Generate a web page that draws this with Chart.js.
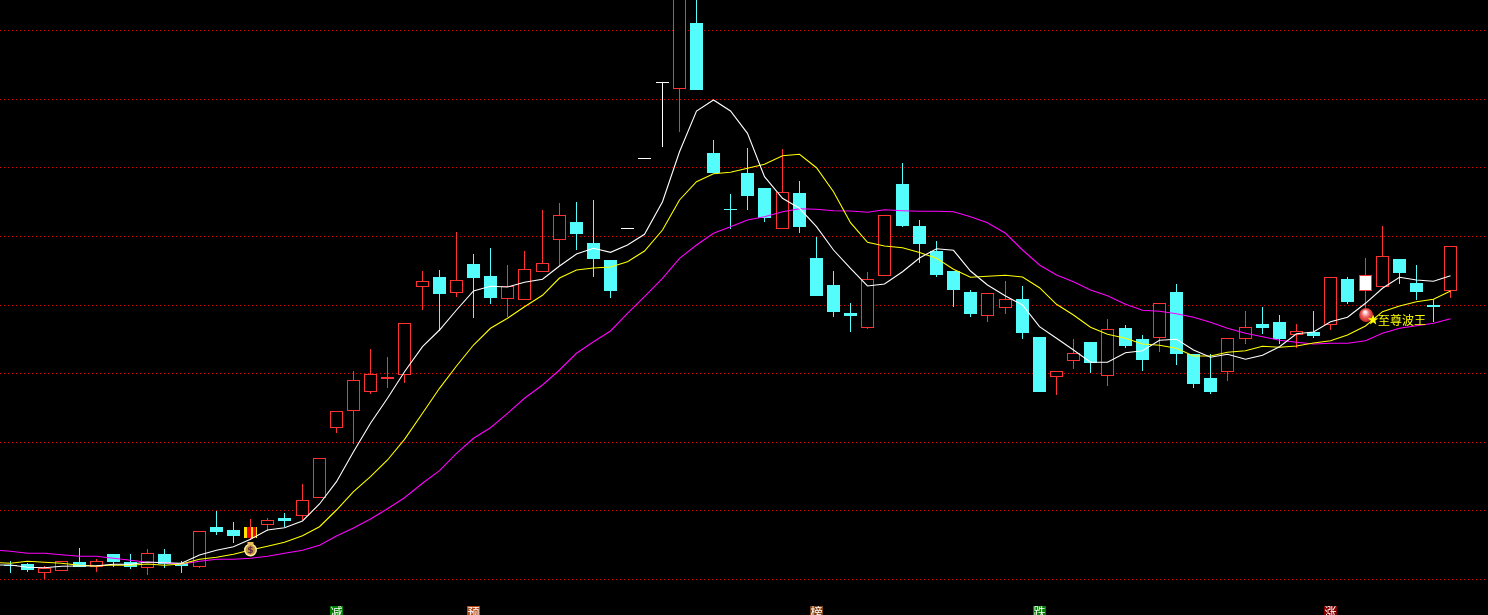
<!DOCTYPE html>
<html>
<head>
<meta charset="utf-8">
<title>K-line</title>
<script src="https://cdn.jsdelivr.net/npm/chart.js@4/dist/chart.umd.min.js"></script>
<style>
  html, body { margin: 0; padding: 0; background: #000; overflow: hidden; }
  canvas { display: block; }
</style>
</head>
<body>
<canvas id="kline" width="1488" height="615"></canvas>
<script>
// --- Data ---
const opens = [50,51,42.3,44.3,53,48,61,53,47.3,61,52,48.3,88,85,77,90.3,97,98.7,116.7,186.7,
  203.7,222.7,235.7,239.7,328.3,338,322.3,351,339,316.3,315.3,343.3,375.3,393,372,355,387,457,533,525.7,
  592,462,406,442,427,386.3,422,357,330,302,287.3,339.3,431,389,364,344,323,299.3,307.3,316,
  278,238.3,254.3,273,239.3,287,276,277.3,323,261,237,243,276.3,291,293,280,283,290.3,336,324,
  328.3,356,332,310,324.3];
const closes = [49,45,46.7,53.7,48.3,53.7,53,47.7,61.7,51,49,83.7,83,79,88,94.7,94,114.7,156.7,203.7,
  234.7,241,237.7,291.7,333.7,321,334.7,337,317,328.7,345.7,351.7,399.7,381,356,324,386,456,532,650,
  525,442,405,419,397,422.7,388,319,303,299,335.7,399.7,389,371,340,325,301,321.7,315.7,282,
  223,243.7,261.7,252,285.7,269,255,311.7,261,231,223,276.7,287.7,287,275.7,283.7,279,337.7,313,340,
  358.7,342,323,308,368.7];
const highs = [54,52,49,53.7,67,56,61,61,65.7,66,54,83.7,104,93,96,97,102,131,156.7,203.7,
  243.7,266,258,291.7,344,345,383,361,367,350,364,405,412,413,415,355,387,457,533,650,
  650,475,421,467,427,466,434,378,344,312,343,399.7,452,395,374,344,325,321.7,334,329,
  278,243.7,276,273,296,290,280,311.7,331,261,261,276.7,304,308,300,291,304,337.7,338,357,
  389,356,350,316,368.7];
const lows = [42.3,43,36,44.3,48.3,43,48.3,46,40,47,42,47.3,80,72.3,75,84.3,88,95,116.7,182.3,
  171,221,227,232,305,284,318,297,311,298,315.3,343.3,349,365,338,317,386,456,468.3,483.3,
  525,442,386,405,393,386.3,382,319,298,283,286,339.3,388,352,338,308,298,293,301,276,
  223,220,246,242,229,267,244,263,250,227,221,234,271,281,271,267,277,285,311,307,
  328.3,331,315,293,317];

// moving averages, the first value of each belongs to the session before the first candle
const maFast = [50,50,47.7,47.3,48.7,49,49.3,50.7,50.7,53,52.3,51.7,60,64.7,68.3,75.7,85,87.3,94,111,133.3,
  163.3,191.7,216.7,243.3,268.3,285,305,324,328.7,328,332.7,335.7,349,361,366.7,362.7,370,380.7,413.3,463.3,
  504,515,504,481.7,438.3,416.7,406.7,388.3,365,346.7,329,331,343.3,357,366.3,364.7,344,330,319,310,
  288.3,276.7,265,252.7,252.7,262.3,264.3,274.7,275.7,265,257.7,260.7,255.7,259.7,268.3,281.3,283,293.3,297.7,311.7,
  326.7,337.7,335,333.7,339.3];
const maMid = [52.5,51.7,53.7,52.7,51.7,49.7,49,50,49.7,51,49.7,51,55.7,57.7,60.7,65,68.7,72.7,79.3,88.3,105,
  123.3,138.3,155,175.7,201.7,226.7,249,270,286.7,296.7,308.3,319.7,337,345,347,348,353.3,364,385,415,
  433.3,441.3,442.7,446.7,450.7,459.3,460.7,447.3,423.3,392.3,372.7,369,367.3,362.5,356.7,345.7,337.7,338.7,339.7,338,
  327.3,310.7,300,287.7,280.7,276.7,271,269.7,266.7,259,259,262.7,264.3,268.7,267.7,269,272,274.3,280,289,
  303.3,309,313.3,315.7,324];
const maSlow = [65,63.7,61.7,61.7,60.3,58.7,58.7,56.7,54.7,52.7,52.3,51,53.7,55.7,55.7,56.7,58.7,61.7,64.7,69.7,79,
  87,96,106.3,117.3,131.7,144.3,161.7,176.7,187.3,201.7,216.7,230,245,261.7,273.3,284,301.7,318.3,336.7,356.7,
  370,381.7,388.3,395,398.3,403.3,406.3,405.7,404.3,404,402.7,405.3,404.3,403.7,403.7,403.3,398.3,392.3,381.7,365,
  350,340,333.3,325,319.3,310.7,304.7,303.8,301.3,297.7,292.7,286.7,281.7,278.3,274.7,272.7,271,271.7,271.7,274.3,
  281.7,286.7,289.3,291.7,296.3];

const priceLevels = [584.5, 515.5, 447.5, 378.5, 309.5, 241.5, 172.5, 104.5, 35.5];

const whiteSessions = [36, 37, 38];
const filledSession = 79;
const signalSession = 14;
const badgeSessions = [19, 27, 47, 60, 77];
const badgeTexts = ['减', '预', '榜', '跌', '涨'];
const badgeColors = ['#008000', '#b04818', '#804010', '#008000', '#800000'];
const labelText = '至尊波王';

const RED = '#ff3232';
const CYAN = '#54fcfc';

// --- Candle colours ---
// stripes of the signal candle, one entry per pixel column from its left edge
function stripes() {
  const cols = 'yyyrrrryyrrry';
  const c = document.createElement('canvas');
  c.width = 13;
  c.height = 1;
  const g = c.getContext('2d');
  for (let k = 0; k < 13; k++) {
    g.fillStyle = cols[k] === 'y' ? '#ffe000' : '#f00000';
    g.fillRect((244 + k) % 13, 0, 1, 1);
  }
  return g.createPattern(c, 'repeat');
}
const signalFill = stripes();

function lineColor(i) {
  if (whiteSessions.includes(i)) return '#ffffff';
  if (i === signalSession) return RED;
  return closes[i] > opens[i] ? RED : CYAN;
}
function bodyFill(i) {
  if (i === signalSession) return signalFill;
  if (i === filledSession) return '#ffffff';
  if (whiteSessions.includes(i)) return '#ffffff';
  return closes[i] > opens[i] ? '#000000' : CYAN;
}

// --- Plugins ---
// keep everything on whole pixels, the original has no antialiasing on candles
const snapPlugin = {
  id: 'snap',
  beforeDatasetsDraw(chart) {
    chart.getSortedVisibleDatasetMetas().forEach(meta => {
      meta.data.forEach(el => {
        el.x = Math.floor(el.x) + 0.5;
        if (meta.type === 'bar') {
          el.y = Math.round(el.y);
          el.base = Math.round(el.base);
        }
      });
    });
  }
};

function drawBag(ctx, x, y) {
  ctx.save();
  ctx.fillStyle = '#fff0a8';
  ctx.beginPath();
  ctx.arc(x, y + 1, 6.5, 0, Math.PI * 2);
  ctx.fill();
  ctx.fillStyle = '#c89838';
  ctx.beginPath();
  ctx.arc(x, y + 1, 5, 0, Math.PI * 2);
  ctx.fill();
  ctx.fillStyle = '#e8c060';
  ctx.fillRect(x - 3, y - 7, 6, 3);
  ctx.fillStyle = '#5a2a4a';
  ctx.font = 'bold 9px "DejaVu Sans"';
  ctx.textAlign = 'center';
  ctx.textBaseline = 'middle';
  ctx.fillText('$', x, y + 1.5);
  ctx.restore();
}

function drawBall(ctx, x, y) {
  ctx.save();
  const grad = ctx.createRadialGradient(x - 1, y - 3, 1, x, y, 7.5);
  grad.addColorStop(0, '#fff0f0');
  grad.addColorStop(0.45, '#f06060');
  grad.addColorStop(1, '#c02020');
  ctx.fillStyle = grad;
  ctx.beginPath();
  ctx.arc(x, y, 7, 0, Math.PI * 2);
  ctx.fill();
  ctx.restore();
}

function drawStar(ctx, x, y, r) {
  ctx.save();
  ctx.fillStyle = '#ffff00';
  ctx.beginPath();
  for (let k = 0; k < 10; k++) {
    const rad = k % 2 ? r * 0.42 : r;
    const a = -Math.PI / 2 + k * Math.PI / 5;
    ctx.lineTo(x + rad * Math.cos(a), y + rad * Math.sin(a));
  }
  ctx.closePath();
  ctx.fill();
  ctx.restore();
}

const marksPlugin = {
  id: 'marks',
  afterDatasetsDraw(chart) {
    const ctx = chart.ctx;
    const xs = chart.scales.x;
    const ys = chart.scales.y;

    // bottom badges
    ctx.save();
    ctx.font = '12px "Noto Sans CJK SC"';
    ctx.textAlign = 'center';
    ctx.textBaseline = 'alphabetic';
    badgeSessions.forEach((s, i) => {
      const x = Math.floor(xs.getPixelForValue(s)) + 0.5;
      ctx.fillStyle = badgeColors[i];
      ctx.fillRect(x - 6.5, 606, 13, 9);
      ctx.fillStyle = '#ffffff';
      ctx.fillText(badgeTexts[i], x, 617);
    });
    ctx.restore();

    // money bag under the signal candle
    drawBag(ctx, Math.floor(xs.getPixelForValue(signalSession)) + 0.5, ys.getPixelForValue(66));

    // ball, star and label beside the white-filled candle
    const lx = xs.getPixelForValue(filledSession);
    drawBall(ctx, lx + 1, ys.getPixelForValue(300));
    drawStar(ctx, lx + 8, ys.getPixelForValue(295), 5.5);
    ctx.save();
    ctx.font = '12px "Noto Sans CJK SC"';
    ctx.fillStyle = '#ffff00';
    ctx.textAlign = 'left';
    ctx.textBaseline = 'middle';
    ctx.fillText(labelText, lx + 13, ys.getPixelForValue(295));
    ctx.restore();
  }
};

// --- Chart ---
new Chart(document.getElementById('kline'), {
  type: 'bar',
  data: {
    datasets: [
      {
        type: 'line',
        data: maFast.map((v, i) => ({ x: i - 1, y: v })),
        borderColor: '#ffffff',
        borderWidth: 1.1,
        pointRadius: 0,
        tension: 0,
        order: 1
      },
      {
        type: 'line',
        data: maMid.map((v, i) => ({ x: i - 1, y: v })),
        borderColor: '#ffff00',
        borderWidth: 1.1,
        pointRadius: 0,
        tension: 0,
        order: 1
      },
      {
        type: 'line',
        data: maSlow.map((v, i) => ({ x: i - 1, y: v })),
        borderColor: '#ff00ff',
        borderWidth: 1.1,
        pointRadius: 0,
        tension: 0,
        order: 1
      },
      {
        data: opens.map((o, i) => ({ x: i, y: [o, closes[i]] })),
        backgroundColor: opens.map((_, i) => bodyFill(i)),
        borderColor: opens.map((_, i) => lineColor(i)),
        borderWidth: opens.map((_, i) => (i === signalSession ? 0 : 1)),
        borderSkipped: false,
        inflateAmount: 0,
        barThickness: 13,
        grouped: false,
        order: 2
      },
      {
        data: lows.map((l, i) => ({ x: i, y: [l, highs[i]] })),
        backgroundColor: opens.map((_, i) => lineColor(i)),
        borderWidth: 0,
        borderSkipped: false,
        inflateAmount: 0,
        barThickness: 1,
        grouped: false,
        order: 3
      }
    ]
  },
  options: {
    responsive: false,
    animation: false,
    devicePixelRatio: 1,
    layout: { padding: 0 },
    plugins: { legend: { display: false }, tooltip: { enabled: false } },
    scales: {
      x: {
        type: 'linear',
        offset: false,
        min: -0.613536,
        max: 86.16802,
        display: false
      },
      y: {
        min: 0,
        max: 615,
        afterBuildTicks: scale => { scale.ticks = priceLevels.map(v => ({ value: v })); },
        ticks: { display: false },
        border: { display: false, dash: [1, 3] },
        grid: { color: '#e00000', lineWidth: 1, drawTicks: false }
      }
    }
  },
  plugins: [snapPlugin, marksPlugin]
});
</script>
</body>
</html>
